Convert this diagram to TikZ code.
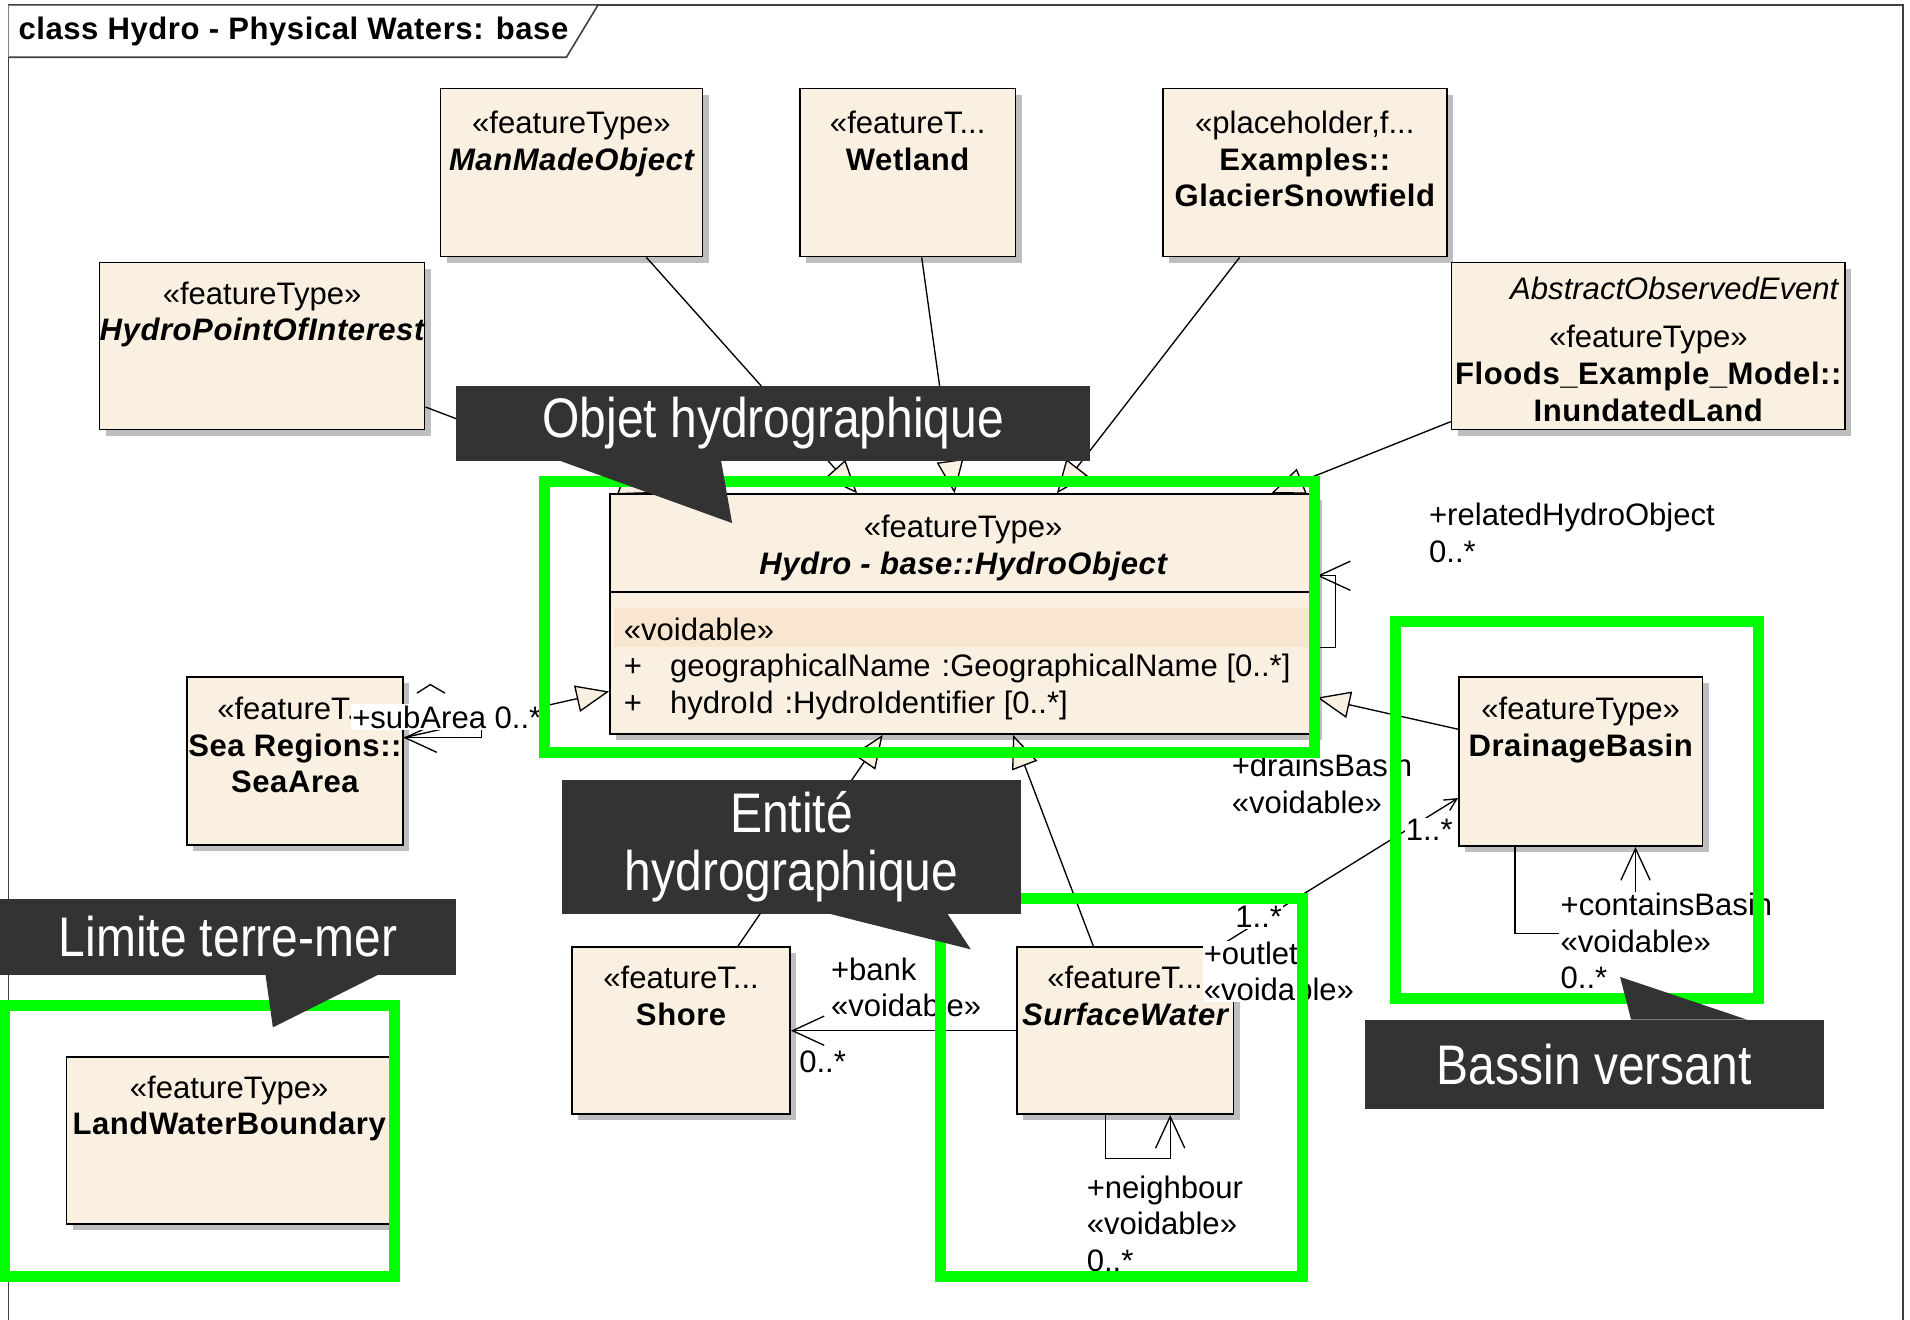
\documentclass[tikz,border=0pt]{standalone}
\usepackage{fontspec}
\setmainfont{Liberation Sans}
\newfontfamily\namefont{Liberation Sans}[LetterSpace=1.8]
\newfontfamily\calloutfont{Liberation Sans}[FakeStretch=0.86]
\usetikzlibrary{arrows.meta,shadows}

\definecolor{clsfill}{RGB}{250,240,226}
\definecolor{attrband}{RGB}{249,230,208}
\definecolor{shadowgray}{RGB}{190,190,190}
\definecolor{calloutgray}{RGB}{51,51,51}
\definecolor{hlgreen}{RGB}{0,255,0}
\definecolor{framegray}{RGB}{64,64,64}

\begin{document}
\begin{tikzpicture}[
    x=1pt, y=-1pt,
    font=\fontsize{25.5}{30}\selectfont,
    cls/.style={draw=black, line width=1.3pt, fill=clsfill, anchor=north west,
                inner sep=0pt,
                drop shadow={shadow xshift=5pt, shadow yshift=-5pt,
                             fill=shadowgray, opacity=1}},
    clstext/.style={anchor=north, align=center, inner sep=0pt},
    lbl/.style={anchor=north west, align=left, inner sep=1pt, fill=white},
    gen/.style={line width=1.1pt, -{Triangle[length=27pt,width=22pt,fill=clsfill]}},
    nav/.style={line width=1.1pt, -{Straight Barb[length=26pt,width=24pt]}},
    hilite/.style={draw=hlgreen, line width=9pt},
    callout/.style={fill=calloutgray, text=white, anchor=north west, inner sep=0pt,
                    align=center, font=\calloutfont\fontsize{45.8}{47}\selectfont}
]
\useasboundingbox (0,0) rectangle (1568,1083);

\draw[framegray, line width=1.3pt] (7,1095) -- (7,4) -- (1562,4) -- (1562,1095);
\draw[framegray, line width=1.3pt, fill=white] (7,4) -- (491,4) -- (465,47) -- (7,47);
\node[anchor=west, inner sep=0pt] (title) at (15,26)
    {\namefont\bfseries class Hydro - Physical Waters: base};

\node[cls, minimum width=215pt, minimum height=138pt] (mmo) at (361,72) {};
\node[clstext] (mmo-t) at ([yshift=-19pt]mmo.north)
    {«featureType»\\{\namefont\bfseries\itshape ManMadeObject}};

\node[cls, minimum width=177pt, minimum height=138pt] (wet) at (656,72) {};
\node[clstext] (wet-t) at ([yshift=-19pt]wet.north)
    {«featureT...\\{\namefont\bfseries Wetland}};

\node[cls, minimum width=233pt, minimum height=138pt] (gla) at (954,72) {};
\node[clstext] (gla-t) at ([yshift=-19pt]gla.north)
    {«placeholder,f...\\{\namefont\bfseries Examples::}\\{\namefont\bfseries GlacierSnowfield}};

\node[cls, minimum width=267pt, minimum height=137pt] (hpoi) at (81,215) {};
\node[clstext] (hpoi-t) at ([yshift=-16pt]hpoi.north)
    {«featureType»\\{\namefont\bfseries\itshape HydroPointOfInterest}};

\node[cls, minimum width=323pt, minimum height=137pt] (inu) at (1191,215) {};
\node[anchor=north east, inner sep=0pt] (inu-a) at ([xshift=-6pt,yshift=-12pt]inu.north east)
    {\itshape AbstractObservedEvent};
\node[clstext] (inu-t) at ([yshift=-52pt]inu.north)
    {«featureType»\\{\namefont\bfseries Floods\_Example\_Model::}\\{\namefont\bfseries InundatedLand}};

\node[cls, minimum width=580pt, minimum height=197pt] (hobj) at (500,405) {};
\fill[attrband] (504,499) rectangle (1078,531);
\draw[line width=1.3pt] (hobj.west |- 0,486) -- (hobj.east |- 0,486);
\node[clstext] (hobj-t) at ([yshift=-18pt]hobj.north)
    {«featureType»\\{\namefont\bfseries\itshape Hydro - base::HydroObject}};
\node[anchor=north west, align=left, inner sep=0pt] (hobj-a) at (512,507)
    {«voidable»\\
     +\hspace{23pt}geographicalName\hspace{9pt}:GeographicalName [0..*]\\
     +\hspace{23pt}hydroId\hspace{9pt}:HydroIdentifier [0..*]};

\node[cls, minimum width=177pt, minimum height=138pt] (sea) at (153,555) {};
\node[clstext] (sea-t) at ([yshift=-17pt]sea.north)
    {«featureT...\\{\namefont\bfseries Sea Regions::}\\{\namefont\bfseries SeaArea}};

\node[cls, minimum width=200pt, minimum height=139pt] (dbas) at (1197,555) {};
\node[clstext] (dbas-t) at ([yshift=-17pt]dbas.north)
    {«featureType»\\{\namefont\bfseries DrainageBasin}};

\node[cls, minimum width=179pt, minimum height=137pt] (shore) at (469,777) {};
\node[clstext] (shore-t) at ([yshift=-16pt]shore.north)
    {«featureT...\\{\namefont\bfseries Shore}};

\node[cls, minimum width=178pt, minimum height=137pt] (sw) at (834,777) {};
\node[clstext] (sw-t) at ([yshift=-16pt]sw.north)
    {«featureT...\\{\namefont\bfseries\itshape SurfaceWater}};

\node[cls, minimum width=267pt, minimum height=137pt] (lwb) at (54,867) {};
\node[clstext] (lwb-t) at ([yshift=-16pt]lwb.north)
    {«featureType»\\{\namefont\bfseries LandWaterBoundary}};

\draw[gen] ([yshift=-50pt]hpoi.east) -- ([xshift=-255pt]hobj.north);
\draw[gen] ([xshift=61.5pt]mmo.south) -- ([xshift=-87pt]hobj.north);
\draw[gen] ([xshift=11.5pt]wet.south) -- ([xshift=-7pt]hobj.north);
\draw[gen] ([xshift=-53.5pt]gla.south) -- ([xshift=77pt]hobj.north);
\draw[gen] ([yshift=-62pt]inu.west) -- ([xshift=253pt]hobj.north);
\draw[gen] ([yshift=19pt]sea.east) -- ([yshift=-63.5pt]hobj.west);
\draw[gen] ([yshift=26.5pt]dbas.west) -- ([yshift=-68.5pt]hobj.east);
\draw[gen] ([xshift=46.5pt]shore.north) -- ([xshift=-66pt]hobj.south);
\draw[gen] ([xshift=-26pt]sw.north) -- ([xshift=41pt]hobj.south);

\draw[nav] ([yshift=-27.5pt]hobj.east) -| ([xshift=15pt,yshift=31.5pt]hobj.east)
    -- ([yshift=31.5pt]hobj.east);
\draw[nav] (sw.west) -- (sw.west -| shore.east);
\draw[line width=1.1pt, -{Straight Barb[length=10pt,width=10pt]}]
    ([xshift=77pt]sw.north) -- ([yshift=-30pt]dbas.west);
\draw[nav] ([xshift=-54pt]dbas.south) |- ([xshift=45pt,yshift=-71pt]dbas.south)
    -- ([xshift=45pt]dbas.south);
\draw[nav] ([xshift=-16pt]sw.south) |- ([xshift=37pt,yshift=-36pt]sw.south)
    -- ([xshift=37pt]sw.south);
\draw[nav] ([yshift=45pt]sea.east) -| ([xshift=64pt,yshift=19pt]sea.east)
    -- ([yshift=19pt]sea.east);
\draw[line width=1.1pt] ([xshift=11pt,yshift=-14pt]sea.north east) -- ++(11,-7) -- ++(12,7);

\node[lbl] (rel-l) at (1172,412) {+relatedHydroObject\\0..*};
\node[lbl] (drn-l) at (1010,618) {+drainsBasin\\«voidable»};
\node[lbl] (drn-m) at (1153,671.5) {1..*};
\node[lbl] (out-m) at (1013,742.5) {1..*};
\node[lbl] (out-l) at (987,772) {+outlet\\«voidable»};
\node[lbl] (bank-l) at (681,785) {+bank\\«voidable»};
\node[lbl] (bank-m) at (655,861.5) {0..*};
\node[lbl] (cont-l) at (1280,732) {+containsBasin\\«voidable»\\0..*};
\node[lbl] (nb-l) at (891,964) {+neighbour\\«voidable»\\0..*};
\node[lbl] (sub-l) at (288,578) {+subArea 0..*};

\draw[hilite] (447,395) rectangle (1079.5,618);
\draw[hilite] (1146,510) rectangle (1444,820);
\draw[hilite] (772,738) rectangle (1069.5,1048);
\draw[hilite] (3.5,825.5) rectangle (324,1048);

\node[callout, minimum width=521pt, minimum height=61pt] (objet) at (374,317) {Objet hydrographique};
\fill[calloutgray] ([xshift=86pt]objet.south west) -- ++(141,51) -- ++(-9,-51) -- cycle;
\node[callout, minimum width=377pt, minimum height=110pt] (entite) at (461,640) {Entité\\hydrographique};
\fill[calloutgray] ([xshift=221pt]entite.south west) -- ++(115,29) -- ++(-19,-29) -- cycle;
\node[callout, minimum width=374pt, minimum height=62pt] (limite) at (0,738) {Limite terre-mer};
\fill[calloutgray] ([xshift=218pt]limite.south west) -- ++(6,43) -- ++(86,-43) -- cycle;
\node[callout, minimum width=377pt, minimum height=73pt] (bassin) at (1120,837) {Bassin versant};
\fill[calloutgray] ([xshift=219pt]bassin.north west) -- ++(-9,-35) -- ++(104,35) -- cycle;
\end{tikzpicture}
\end{document}
